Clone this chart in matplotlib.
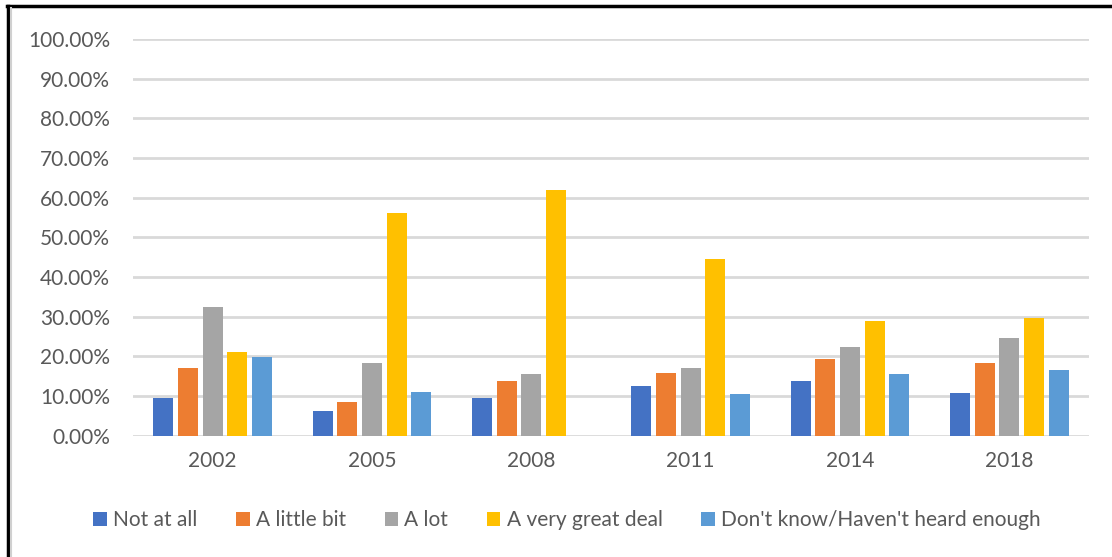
import matplotlib.pyplot as plt
import numpy as np
from matplotlib.lines import Line2D
from matplotlib.ticker import FuncFormatter

plt.rcParams['font.family'] = ['Lato', 'DejaVu Sans']

years = ["2002", "2005", "2008", "2011", "2014", "2018"]
series = ["Not at all", "A little bit", "A lot", "A very great deal",
          "Don't know/Haven't heard enough"]
colors = ["#4472C4", "#ED7D31", "#A5A5A5", "#FFC000", "#5B9BD5"]

# percentages per year, one list per answer
not_at_all = [9.45, 6.3, 9.4, 12.4, 13.7, 10.6]
a_little_bit = [17.1, 8.4, 13.7, 15.7, 19.4, 18.4]
a_lot = [32.5, 18.4, 15.4, 17.1, 22.4, 24.5]
very_great_deal = [21.1, 56.0, 61.8, 44.4, 28.9, 29.6]
dont_know = [19.8, 11.0, 0.0, 10.4, 15.4, 16.4]

values = [not_at_all, a_little_bit, a_lot, very_great_deal, dont_know]

W, H = 1112, 557
fig = plt.figure(figsize=(W / 100, H / 100), dpi=100)
ax = fig.add_axes([133 / W, (H - 435.5) / H, (1089 - 133) / W, (435.5 - 39) / H])

x = np.arange(len(years))
slot = 0.155
for i, (name, vals, c) in enumerate(zip(series, values, colors)):
    ax.bar(x + (i - 2) * slot, vals, width=0.125, color=c, label=name, zorder=3)

ax.set_xlim(-0.5, len(years) - 0.5)
ax.set_ylim(0, 100)
ax.set_yticks(np.arange(0, 101, 10))
ax.yaxis.set_major_formatter(FuncFormatter(lambda v, p: f"{v:.2f}%"))
ax.set_xticks(x)
ax.set_xticklabels(years)
ax.tick_params(length=0, labelsize=15, colors="#595959")
ax.tick_params(axis="y", pad=16.5)
ax.tick_params(axis="x", pad=11)
ax.grid(axis="y", color="#D9D9D9", linewidth=2, zorder=0)
for s in ax.spines.values():
    s.set_visible(False)

leg = fig.legend(loc="center", bbox_to_anchor=(567 / W, 37 / H), ncol=5,
                 frameon=False, fontsize=15, handlelength=0.65, handleheight=0.65,
                 handletextpad=0.3, columnspacing=1.85)
for t in leg.get_texts():
    t.set_color("#595959")

# border lines along the top and left edge
fig.add_artist(Line2D([7 / W, 1], [1 - 6 / H, 1 - 6 / H], transform=fig.transFigure,
                      color="black", linewidth=2.5))
fig.add_artist(Line2D([7.5 / W, 7.5 / W], [0, 1 - 6 / H], transform=fig.transFigure,
                      color="black", linewidth=2.5))
fig.add_artist(Line2D([10.5 / W, 10.5 / W], [0, 1 - 8 / H], transform=fig.transFigure,
                      color="#D0D0D0", linewidth=1.5))

fig.savefig("out.png", dpi=100)
plt.close(fig)
